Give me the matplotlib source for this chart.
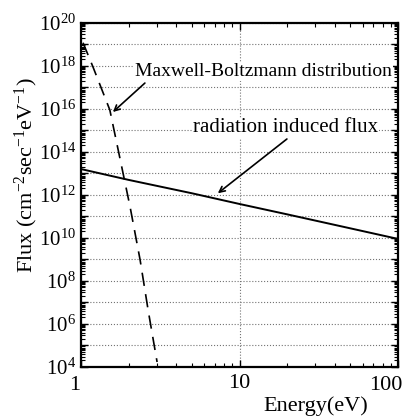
import math
import matplotlib
matplotlib.use('Agg')
import matplotlib.pyplot as plt
import matplotlib.transforms as mtransforms
from matplotlib.ticker import LogLocator, FuncFormatter, FixedLocator, FixedFormatter

plt.rcParams['font.family'] = ['Liberation Serif', 'DejaVu Serif']
plt.rcParams['mathtext.fontset'] = 'custom'
plt.rcParams['mathtext.rm'] = 'Liberation Serif'
plt.rcParams['mathtext.default'] = 'regular'

# radiation induced flux (solid)
rad_energy = [1, 2, 5, 10, 20, 50, 100]
rad_flux = [1.6e13, 5.0e12, 1.2e12, 3.8e11, 1.25e11, 2.8e10, 9.0e9]

# Maxwell-Boltzmann distribution (dashed)
mb_energy = [1.03, 1.19, 1.52, 2.04, 2.36, 2.65, 3.02]
mb_flux = [1.2e19, 9e17, 9e15, 2.8e11, 9.5e8, 4.5e6, 1.7e4]

fig = plt.figure(figsize=(4.07, 4.17), dpi=100)
ax = fig.add_axes([0.199, 0.120, 0.779, 0.825])

ax.plot(rad_energy, rad_flux, color='black', lw=1.4)
ax.plot(mb_energy, mb_flux, color='black', lw=1.2, ls=(0, (8, 5)))

ax.set_xscale('log')
ax.set_yscale('log')
ax.set_xlim(1, 100)
ax.set_ylim(1e4, 1e20)

# ticks
ax.xaxis.set_major_locator(FixedLocator([1, 10, 100]))
ax.xaxis.set_major_formatter(FixedFormatter(['1', '10', '100']))
ax.xaxis.set_minor_locator(LogLocator(base=10, subs=range(2, 10), numticks=10))
ax.yaxis.set_major_locator(LogLocator(base=10, subs=(1.0,), numticks=30))
ax.yaxis.set_minor_locator(LogLocator(base=10, subs=range(2, 10), numticks=30))


def ylab(v, pos):
    e = int(round(math.log10(v)))
    if e % 2:
        return ''
    return '$10^{%d}$' % e


ax.yaxis.set_major_formatter(FuncFormatter(ylab))
ax.tick_params(which='both', direction='in', top=True, right=True)
ax.tick_params(which='major', length=5, width=1, labelsize=15)
ax.tick_params(axis='x', labelsize=16, pad=5)
ax.tick_params(which='minor', length=3, width=0.8)
for s in ax.spines.values():
    s.set_linewidth(1.6)

# first and last x tick labels sit a little to the left
xt = ax.xaxis.get_major_ticks()
for t, dx in [(xt[0], -6), (xt[-1], -12)]:
    off = mtransforms.ScaledTranslation(dx / 100, -2 / 100, fig.dpi_scale_trans)
    t.label1.set_transform(t.label1.get_transform() + off)

ax.grid(True, which='major', ls=':', color='0.45', lw=0.8)

ax.set_xlabel('Energy(eV)', fontsize=16)
ax.xaxis.set_label_coords(0.741, -0.084)
ax.set_ylabel('Flux (cm$^{-2}$sec$^{-1}$eV$^{-1}$)', fontsize=16)
ax.yaxis.set_label_coords(-0.13, 0.558)

box = dict(facecolor='white', edgecolor='none', pad=0.5)
arrow = dict(arrowstyle='->', color='black', lw=1.2, shrinkA=0, shrinkB=0)

ax.text(2.19, 5.3e17, 'Maxwell-Boltzmann distribution', fontsize=14,
        ha='left', va='center', bbox=box)
ax.annotate('', xy=(1.59, 7.2e15), xytext=(2.53, 1.6e17), arrowprops=arrow)

ax.text(5.09, 1.3e15, 'radiation induced flux', fontsize=15,
        ha='left', va='center', bbox=box)
ax.annotate('', xy=(7.3, 1.2e12), xytext=(19.9, 4e14), arrowprops=arrow)

fig.savefig('out.png', dpi=100)
